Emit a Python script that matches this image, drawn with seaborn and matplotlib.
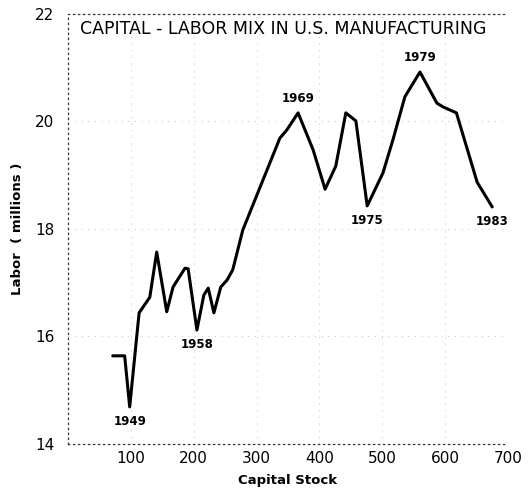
import pandas as pd
import matplotlib
matplotlib.use('Agg')
import matplotlib.pyplot as plt
import seaborn as sns

# values (capital stock vs labor, millions)
capital = [71, 90, 98, 113, 130, 141, 157, 167, 186, 191, 205, 216, 223,
           232, 243, 253, 262, 278, 337, 348, 366, 390, 409, 426, 442, 458,
           476, 501, 517, 536, 560, 587, 597, 618, 651, 675]
labor = [15.64, 15.64, 14.69, 16.44, 16.73, 17.57, 16.46, 16.92, 17.27, 17.26,
         16.12, 16.77, 16.90, 16.44, 16.92, 17.05, 17.24, 17.98, 19.69, 19.84,
         20.16, 19.47, 18.74, 19.17, 20.16, 20.01, 18.43, 19.04, 19.66, 20.46,
         20.92, 20.34, 20.27, 20.16, 18.87, 18.41]

# year labels: point index, text, above/below
year_idx = [2, 10, 20, 26, 30, 35]
year_txt = ['1949', '1958', '1969', '1975', '1979', '1983']
year_pos = ['below', 'below', 'above', 'below', 'above', 'below']

data = pd.DataFrame({'Capital Stock': capital, 'Labor': labor})

# style set
sns.set_style('white')
plt.rcParams['font.family'] = ['DejaVu Sans']
plt.rcParams['text.color'] = 'black'
plt.rcParams['axes.labelcolor'] = 'black'
plt.rcParams['xtick.color'] = 'black'
plt.rcParams['ytick.color'] = 'black'

fig = plt.figure(figsize=(5.28, 4.92), dpi=100)
ax = fig.add_axes([0.129, 0.0976, 0.833, 0.874])

sns.lineplot(data=data, x='Capital Stock', y='Labor', sort=False,
             color='black', linewidth=2.2, ax=ax)

for i, t, p in zip(year_idx, year_txt, year_pos):
    off = 6 if p == 'above' else -6
    ax.annotate(t, (capital[i], labor[i]), xytext=(0, off),
                textcoords='offset points', ha='center',
                va='bottom' if p == 'above' else 'top', fontsize=8.5,
                fontweight='bold')

ax.set_xlim(0, 700)
ax.set_ylim(14, 22)
ax.set_xticks([100, 200, 300, 400, 500, 600, 700])
ax.set_yticks([14, 16, 18, 20, 22])
ax.tick_params(axis='both', length=0, labelsize=11)
ax.tick_params(axis='y', pad=10)
ax.tick_params(axis='x', pad=5)

for s in ['left', 'bottom', 'top']:
    ax.spines[s].set_linestyle((0, (1, 3)))
    ax.spines[s].set_linewidth(0.9)
    ax.spines[s].set_color('#333333')
ax.spines['right'].set_visible(False)

ax.grid(True, color='#777777', linestyle=(0, (1, 7)), linewidth=0.6, alpha=0.6)

ax.text(0.49, 0.985, 'CAPITAL - LABOR MIX IN U.S. MANUFACTURING',
        transform=ax.transAxes, ha='center', va='top', fontsize=12.5)
ax.set_xlabel('Capital Stock', fontsize=9.5, fontweight='bold', labelpad=6)
ax.set_ylabel('Labor  ( millions )', fontsize=9.5, fontweight='bold', labelpad=8)

plt.savefig('out.png', dpi=100)
